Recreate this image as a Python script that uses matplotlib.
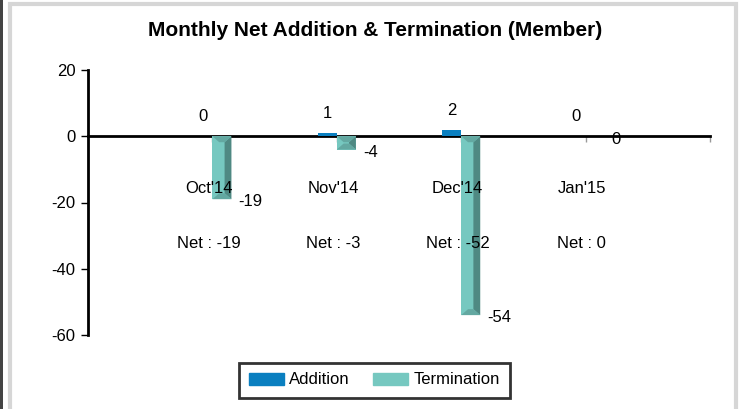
"""
plot.py draws monthly member additions and terminations as beveled bars.
"""

import matplotlib
matplotlib.use("Agg")
import matplotlib.pyplot as plt
from matplotlib.patches import Rectangle, Polygon

plt.rcParams["font.family"] = ["Liberation Sans", "DejaVu Sans"]
plt.rcParams["axes.unicode_minus"] = False

months = ["Oct'14", "Nov'14", "Dec'14", "Jan'15"]
additions = [0, 1, 2, 0]
terminations = [-19, -4, -54, 0]
net = [-19, -3, -52, 0]

ADD_COLOR = "#0a7fc0"
TERM_COLOR = "#76c8c0"
TERM_DARK = "#4f8983"
TERM_MID = "#63a8a1"

# --- figure and axes ---
fig = plt.figure(figsize=(7.43, 4.09), dpi=100)
W, H = 743, 409

# outer frame like the original page widget
fig.patches.append(Rectangle((0, 0), 3 / W, 1, transform=fig.transFigure,
                             facecolor="#444444", edgecolor="none"))
fig.patches.append(Rectangle((9.5 / W, -0.05), (735.5 - 9.5) / W, 1.05 - 4.5 / H,
                             transform=fig.transFigure, facecolor="none",
                             edgecolor="#d6d6d6", linewidth=3))

ax = fig.add_axes([88 / W, 1 - 335 / H, (710 - 88) / W, (335 - 70) / H])

x = list(range(1, len(months) + 1))
bw = 0.153

ax.bar([v - bw / 2 for v in x], additions, width=bw, color=ADD_COLOR,
       linewidth=0, zorder=3)
ax.bar([v + bw / 2 for v in x], terminations, width=bw, color=TERM_COLOR,
       linewidth=0, zorder=3)

# --- bevel shading on termination bars ---
dx = 0.055
dy = 1.8
for v, t in zip(x, terminations):
    if t == 0:
        continue
    x0, x1 = v, v + bw
    y0, y1 = 0, t
    d = min(dy, abs(t) / 2)
    # right side (dark)
    ax.add_patch(Polygon([(x1, y0), (x1, y1), (x1 - dx, y1 + d), (x1 - dx, y0 - d)],
                         closed=True, facecolor=TERM_DARK, edgecolor="none", zorder=4))
    # top edge (medium)
    ax.add_patch(Polygon([(x0, y0), (x1, y0), (x1 - dx, y0 - d), (x0 + dx, y0 - d)],
                         closed=True, facecolor=TERM_MID, edgecolor="none", zorder=4))
    # bottom edge (medium)
    ax.add_patch(Polygon([(x0, y1), (x1, y1), (x1 - dx, y1 + d), (x0 + dx, y1 + d)],
                         closed=True, facecolor=TERM_MID, edgecolor="none", zorder=4))

# --- value labels ---
for v, a in zip(x, additions):
    ax.annotate(str(a), (v - bw / 2, a), xytext=(0, 14), textcoords="offset points",
                ha="center", va="center", fontsize=12, zorder=5)
for v, t in zip(x, terminations):
    ax.annotate(str(t), (v + bw, t), xytext=(5, -2), textcoords="offset points",
                ha="left", va="center", fontsize=12, zorder=5)

for v, m, n in zip(x, months, net):
    ax.text(v - 0.03, -15.7, m, ha="center", va="center", fontsize=12, zorder=5)
    ax.text(v - 0.03, -32.3, "Net : %d" % n, ha="center", va="center",
            fontsize=12, zorder=5)

# --- axes styling ---
ax.set_xlim(0, 5)
ax.set_ylim(-60, 20)
ax.set_yticks([-60, -40, -20, 0, 20])
ax.set_xticks([1, 2, 3, 4, 5])
ax.set_xticklabels([])
ax.tick_params(axis="y", direction="out", length=5, width=1, labelsize=12, pad=4)
ax.tick_params(axis="x", direction="out", length=4, width=1, color="#999999")

ax.spines["top"].set_visible(False)
ax.spines["right"].set_visible(False)
ax.spines["left"].set_linewidth(2)
ax.spines["bottom"].set_position(("data", 0))
ax.spines["bottom"].set_linewidth(2)
ax.spines["bottom"].set_zorder(2)
ax.patch.set_visible(False)

fig.text(375 / W, 1 - 30 / H, "Monthly Net Addition & Termination (Member)",
         ha="center", va="center", fontsize=15, fontweight="bold")

handles = [Rectangle((0, 0), 1, 1, color=ADD_COLOR),
           Rectangle((0, 0), 1, 1, color=TERM_COLOR)]
leg = fig.legend(handles, ["Addition", "Termination"], loc="center",
                 bbox_to_anchor=(374.5 / W, 1 - 380 / H), ncol=2, fontsize=12,
                 fancybox=False, handlelength=2.1, handleheight=0.75,
                 handletextpad=0.3, columnspacing=1.4, borderpad=0.6)
leg.get_frame().set_edgecolor("black")
leg.get_frame().set_linewidth(2)

fig.savefig("out.png", dpi=100)
